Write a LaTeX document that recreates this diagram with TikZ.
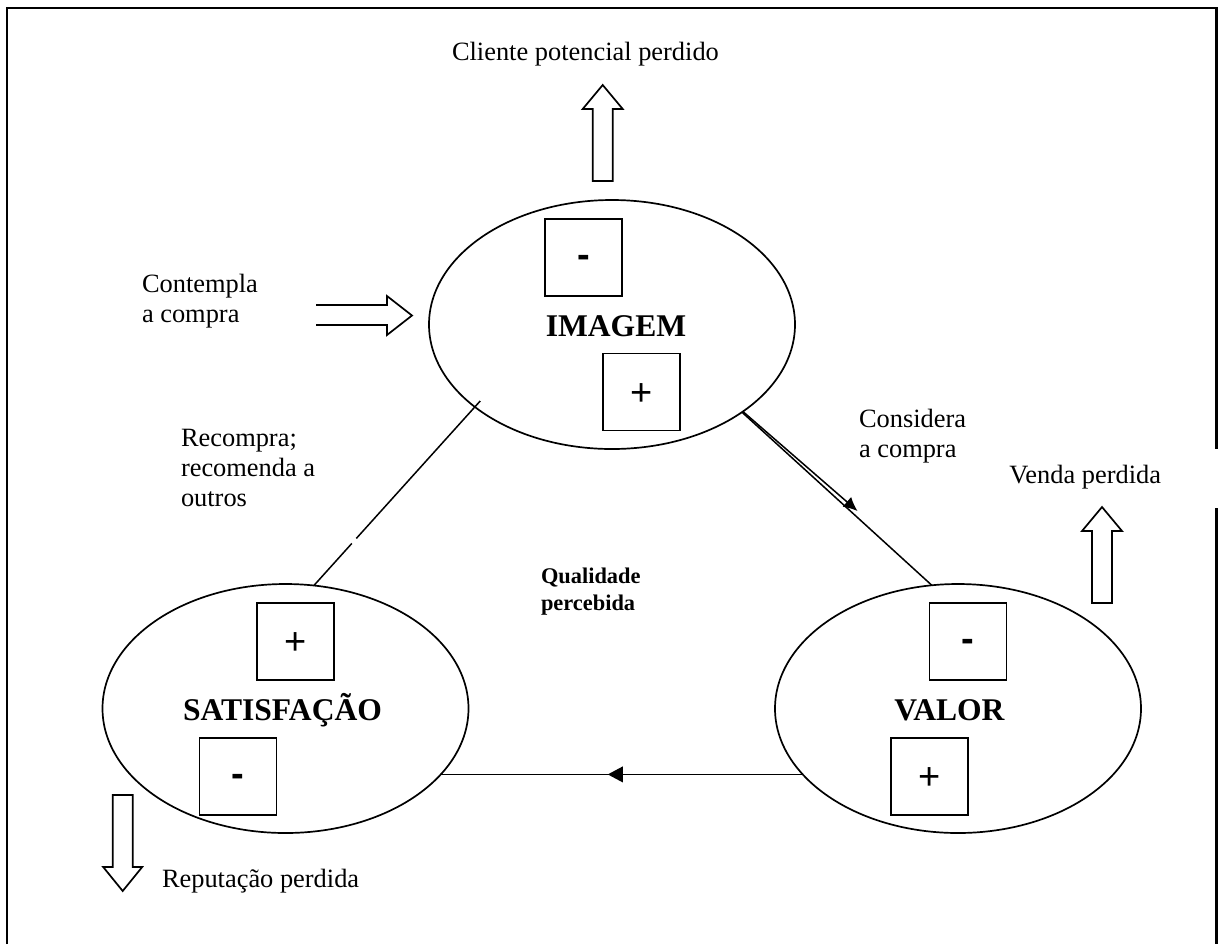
\documentclass[tikz,border=0pt]{standalone}
\usepackage{fontspec}
\setmainfont{Liberation Serif}
\newfontfamily\signfont{Liberation Sans}
\usetikzlibrary{shapes.geometric,arrows.meta,calc,decorations.markings}

\begin{document}
\begin{tikzpicture}[x=0.5pt,y=-0.5pt,
  every node/.style={inner sep=0pt, outer sep=0pt},
  stage/.style={ellipse, draw, line width=0.85pt, minimum width=183pt, minimum height=124.5pt},
  stagename/.style={anchor=base, font=\fontsize{15.8}{18}\selectfont\bfseries},
  signbox/.style={draw, line width=0.8pt, minimum size=38.5pt, font=\signfont\fontsize{19}{22}\selectfont},
  plussign/.style={signbox, text height=13.4pt, text depth=0pt},
  minussign/.style={signbox, text height=9.6pt, text depth=0pt},
  caption/.style={anchor=base west, font=\fontsize{13.2}{15}\selectfont},
  link/.style={line width=0.75pt},
  blockarrow/.style={draw, line width=0.85pt, line join=miter},
  frameline/.style={line width=1.1pt},
]
\useasboundingbox (0,0) rectangle (1220,944);

% outer frame, open at the bottom and broken on the right
\draw[frameline] (7,944) -- (7,8) -- (1216.5,8) -- (1216.5,449);
\draw[frameline] (1216.5,508) -- (1216.5,944);

% the three stages
\node[stage] (img) at (612,324.5) {};
\node[stage] (sat) at (285.5,708.5) {};
\node[stage] (val) at (958,708.5) {};

\node[stagename] (imgname) at (616,336) {IMAGEM};
\node[stagename] (satname) at (282.5,720) {SATISFAÇÃO};
\node[stagename] (valname) at (949.5,720) {VALOR};

% sign boxes
\node[minussign] (imgminus) at (583.5,257.5) {\textbf{-}};
\node[plussign]  (imgplus)  at (641.5,392) {+};
\node[plussign]  (satplus)  at (295.5,641.5) {+};
\node[minussign] (satminus) at (238,776.5) {\textbf{-}};
\node[minussign] (valminus) at (968,641.5) {\textbf{-}};
\node[plussign]  (valplus)  at (929.5,776.5) {+};

% imagem -- satisfacao (with a small break)
\coordinate (rs) at ($(img.211.5)!-4pt!(sat.77.1)$);
\draw[link] (rs) -- ($(rs)!0.745!(sat.77.1)$);
\draw[link] ($(rs)!0.772!(sat.77.1)$) -- (sat.77.1);

% imagem -- valor, with the arrow drawn alongside
\draw[link] (img.-34.6) -- (val.102.7);
\draw[link, -{Latex[length=7pt,width=6.5pt]}]
  ([shift={(0.8,-0.8)}]img.-34.6) -- ([shift={(3.2,-3.6)}]$(img.-34.6)!0.592!(val.102.7)$);

% valor -- satisfacao
\draw[link, decoration={markings, mark=at position 97.5pt with {\arrow{Triangle[length=7.5pt,width=7.8pt]}}}, postaction={decorate}]
  (val.203.7) -- (val.203.7 -| sat.-23.3);

% hollow block arrows
\draw[blockarrow] (592.7,181) -- (592.7,109) -- (582.7,109) -- (602.7,85) -- (622.7,109) -- (612.7,109) -- (612.7,181) -- cycle;
\draw[blockarrow] (1092,603) -- (1092,531) -- (1082,531) -- (1102,507) -- (1122,531) -- (1112,531) -- (1112,603) -- cycle;
\draw[blockarrow] (112.7,795) -- (112.7,867) -- (103.2,867) -- (122.7,891) -- (142.2,867) -- (132.7,867) -- (132.7,795) -- cycle;
\draw[blockarrow] (316,305) -- (387,305) -- (387,296) -- (412,315.5) -- (387,335) -- (387,325) -- (316,325);

% texts
\node[caption] (cliente) at (452,60) {Cliente potencial perdido};
\node[caption] (contempla) at (142,292) {\begin{tabular}[t]{@{}l@{}}Contempla\\a compra\end{tabular}};
\node[caption] (recompra) at (181,446) {\begin{tabular}[t]{@{}l@{}}Recompra;\\recomenda a\\outros\end{tabular}};
\node[caption] (considera) at (859,427) {\begin{tabular}[t]{@{}l@{}}Considera\\a compra\end{tabular}};
\node[caption, anchor=base east] (venda) at (1161,483) {Venda perdida};
\node[caption] (reputacao) at (162,887) {Reputação perdida};
\node[anchor=base west, font=\fontsize{11.2}{13.5}\selectfont\bfseries] (qualidade) at (541,583)
  {\begin{tabular}[t]{@{}l@{}}Qualidade\\percebida\end{tabular}};
\end{tikzpicture}
\end{document}
